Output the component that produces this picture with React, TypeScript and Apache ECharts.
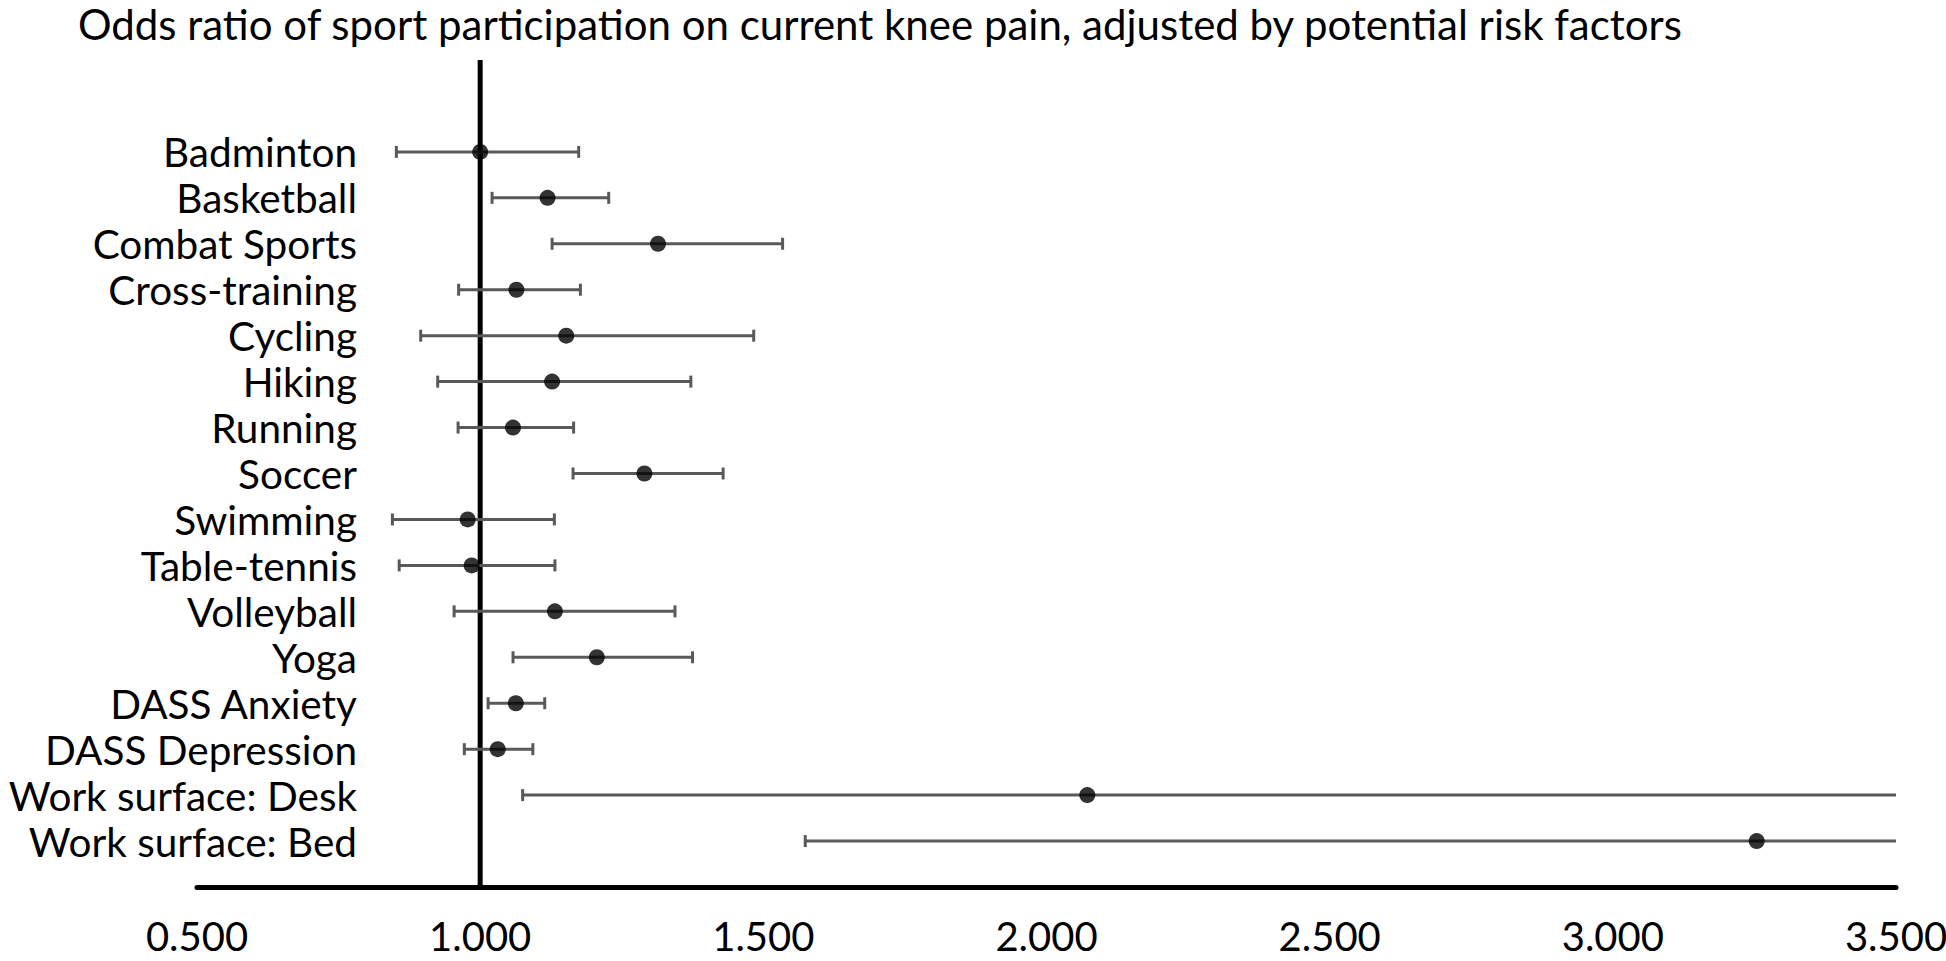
import React, { useEffect, useRef } from "react";
import * as echarts from "echarts";

const titleText =
  "Odds ratio of sport participation on current knee pain, adjusted by potential risk factors";

const categories = [
  "Badminton",
  "Basketball",
  "Combat Sports",
  "Cross-training",
  "Cycling",
  "Hiking",
  "Running",
  "Soccer",
  "Swimming",
  "Table-tennis",
  "Volleyball",
  "Yoga",
  "DASS Anxiety",
  "DASS Depression",
  "Work surface: Desk",
  "Work surface: Bed",
];
const oddsRatio = [1.0, 1.119, 1.314, 1.064, 1.152, 1.127, 1.058, 1.29, 0.978, 0.985, 1.132, 1.206, 1.063, 1.031, 2.072, 3.254];
const ciLower = [0.852, 1.021, 1.127, 0.962, 0.895, 0.925, 0.961, 1.164, 0.845, 0.857, 0.954, 1.058, 1.014, 0.972, 1.075, 1.574];
const ciUpper = [1.174, 1.227, 1.534, 1.177, 1.483, 1.372, 1.165, 1.429, 1.131, 1.132, 1.344, 1.375, 1.114, 1.093, 4.0, 6.7];
const referenceLine = [
  [1, 0],
  [1, 18],
];
const xTicks = { min: 0.5, max: 3.5, interval: 0.5 };

const FONT = "Lato";

export default function App() {
  const ref = useRef<HTMLDivElement>(null);
  useEffect(() => {
    if (!ref.current) return;
    const chart = echarts.init(ref.current, undefined, { renderer: "svg" });
    const n = categories.length;
    const rowY = (i: number) => n - i;
    const barData = categories.map((_, i) => [rowY(i), ciLower[i], ciUpper[i]]);
    const dotData = categories.map((_, i) => [oddsRatio[i], rowY(i)]);

    chart.setOption({
      animation: false,
      backgroundColor: "#fff",
      title: {
        text: titleText,
        left: 78,
        top: 3,
        padding: 0,
        textStyle: {
          fontFamily: FONT,
          fontSize: 42,
          lineHeight: 42,
          fontWeight: "normal",
          color: "#000",
        },
      },
      grid: {
        left: 197,
        right: 50,
        top: 60,
        bottom: 74,
        containLabel: false,
        outerBoundsMode: "none",
      },
      xAxis: {
        type: "value",
        min: xTicks.min,
        max: xTicks.max,
        interval: xTicks.interval,
        axisLine: { show: true, lineStyle: { color: "#000", width: 5 } },
        axisTick: { show: false },
        splitLine: { show: false },
        axisLabel: {
          color: "#000",
          fontFamily: FONT,
          fontSize: 40,
          margin: 29,
          formatter: (v: number) => v.toFixed(3),
        },
      },
      yAxis: {
        type: "value",
        min: 0,
        max: 18,
        interval: 1,
        axisLine: { show: false },
        axisTick: { show: false },
        splitLine: { show: false },
        axisLabel: {
          color: "#000",
          fontFamily: FONT,
          fontSize: 40.5,
          margin: -160,
          formatter: (v: number) => {
            const idx = n - v;
            return v >= 1 && v <= n ? categories[idx] : "";
          },
        },
      },
      series: [
        {
          type: "line",
          data: referenceLine,
          symbol: "none",
          lineStyle: { color: "#000", width: 5 },
          z: 2,
        },
        {
          type: "custom",
          data: barData,
          z: 3,
          renderItem: (params: any, api: any) => {
            const y = api.value(0);
            const lo = api.value(1);
            const hi = api.value(2);
            const cs = params.coordSys;
            const p1 = api.coord([lo, y]);
            const p2 = api.coord([hi, y]);
            const xMin = cs.x;
            const xMax = cs.x + cs.width;
            const x1 = Math.max(xMin, p1[0]);
            const x2 = Math.min(xMax, p2[0]);
            const style = { stroke: "#595959", lineWidth: 3 };
            const capH = 6;
            const children: any[] = [
              { type: "line", shape: { x1, y1: p1[1], x2, y2: p2[1] }, style },
            ];
            if (p1[0] >= xMin && p1[0] <= xMax)
              children.push({ type: "line", shape: { x1: p1[0], y1: p1[1] - capH, x2: p1[0], y2: p1[1] + capH }, style });
            if (p2[0] >= xMin && p2[0] <= xMax)
              children.push({ type: "line", shape: { x1: p2[0], y1: p2[1] - capH, x2: p2[0], y2: p2[1] + capH }, style });
            return { type: "group", children };
          },
        },
        {
          type: "scatter",
          data: dotData,
          symbol: "circle",
          symbolSize: 16,
          itemStyle: { color: "#000" },
          z: 4,
        },
      ],
    });
    return () => chart.dispose();
  }, []);
  return (
    <div
      ref={ref}
      style={{ position: "fixed", left: 0, top: 0, width: 1946, height: 961, background: "#fff" }}
    />
  );
}
